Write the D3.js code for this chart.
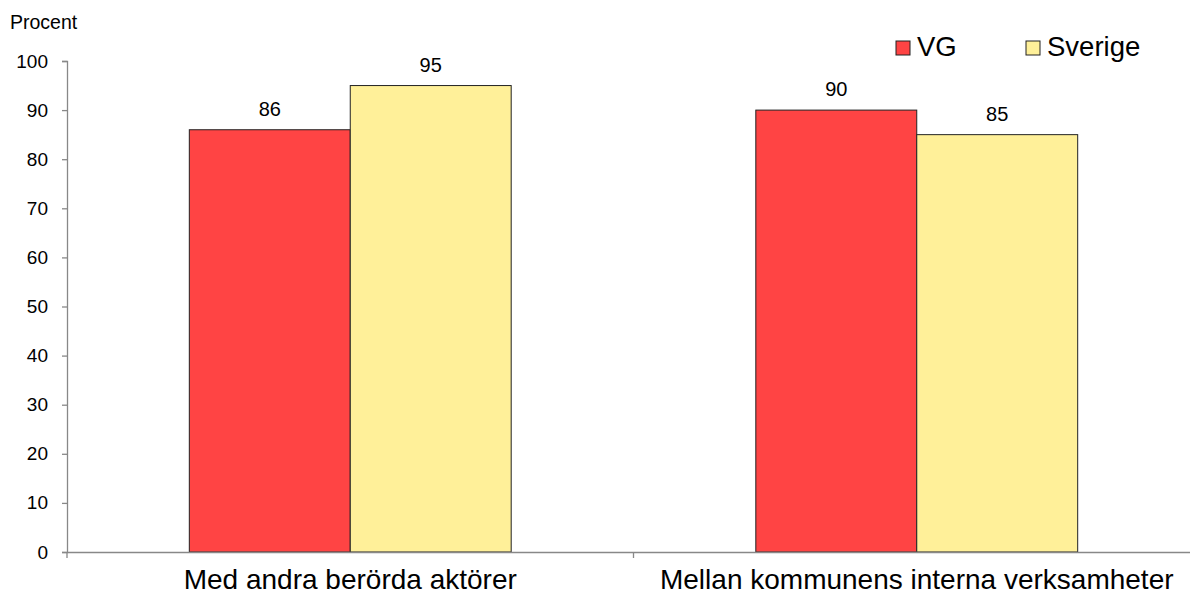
<!DOCTYPE html>
<html><head><meta charset="utf-8">
<script src="https://cdn.jsdelivr.net/npm/d3@7"></script>
<style>body{margin:0;background:#fff}svg{display:block;font-family:Arial,"Liberation Sans",sans-serif}</style>
</head><body><svg id="c" width="1190" height="597"></svg>
<script>
const categories = ["Med andra berörda aktörer", "Mellan kommunens interna verksamheter"];
const seriesNames = ["VG", "Sverige"];
const vgValues = [86, 90];
const sverigeValues = [95, 85];
const yTicks = [0,10,20,30,40,50,60,70,80,90,100];
const colors = ["#FF4444", "#FFF099"];

const svg = d3.select("#c");
const x0 = 67, x1 = 1200, yTop = 61, yBot = 552;
const x = d3.scaleBand().domain(categories).range([x0, x1]).paddingInner(0).paddingOuter(0);
const xs = d3.scaleBand().domain(seriesNames).range([0, x.bandwidth()]).paddingInner(0).paddingOuter(0.76);
const y = d3.scaleLinear().domain([0,100]).range([yBot, yTop]);

const data = categories.map((c,i)=>({cat:c, vals:[vgValues[i], sverigeValues[i]]}));

// bars
const g = svg.append("g");
data.forEach(d=>{
  d.vals.forEach((v,j)=>{
    const bx = x(d.cat) + xs(seriesNames[j]);
    g.append("rect").attr("x", bx).attr("y", y(v)).attr("width", xs.bandwidth()).attr("height", y(0)-y(v))
      .attr("fill", colors[j]).attr("stroke", "#222").attr("stroke-width", 1);
    g.append("text").attr("x", bx + xs.bandwidth()/2).attr("y", y(v)-14).attr("text-anchor","middle")
      .attr("font-size", 20).attr("fill","#000").text(v);
  });
});

// y axis
const ya = svg.append("g").attr("transform", `translate(${x0},0)`)
  .call(d3.axisLeft(y).tickValues(yTicks).tickSize(5).tickPadding(14));
ya.selectAll("path,line").attr("stroke","#888").attr("stroke-width",1.3);
ya.selectAll("text").attr("font-size",19).attr("fill","#000").attr("font-family","Arial,'Liberation Sans',sans-serif");

// x axis
const xa = svg.append("g").attr("transform", `translate(0,${yBot})`)
  .call(d3.axisBottom(x).tickValues([]).tickSizeOuter(0));
xa.select("path").attr("stroke","#888").attr("stroke-width",1.3);
[x0, x(categories[1])].forEach(t=>{
  svg.append("line").attr("x1",t).attr("x2",t).attr("y1",yBot).attr("y2",yBot+6).attr("stroke","#888").attr("stroke-width",1.3);
});
categories.forEach(c=>{
  svg.append("text").attr("x", x(c)+x.bandwidth()/2).attr("y", 589).attr("text-anchor","middle")
    .attr("font-size", 28).attr("fill","#000").text(c);
});

// y title
svg.append("text").attr("x", 10).attr("y", 29).attr("font-size", 19.5).attr("fill","#000").text("Procent");

// legend
const legX = [896, 1026];
seriesNames.forEach((n,i)=>{
  svg.append("rect").attr("x", legX[i]).attr("y", 41).attr("width", 14).attr("height", 14)
    .attr("fill", colors[i]).attr("stroke","#222").attr("stroke-width",1);
  svg.append("text").attr("x", legX[i]+21).attr("y", 56).attr("font-size", 27.5).attr("fill","#000").text(n);
});
</script></body></html>
